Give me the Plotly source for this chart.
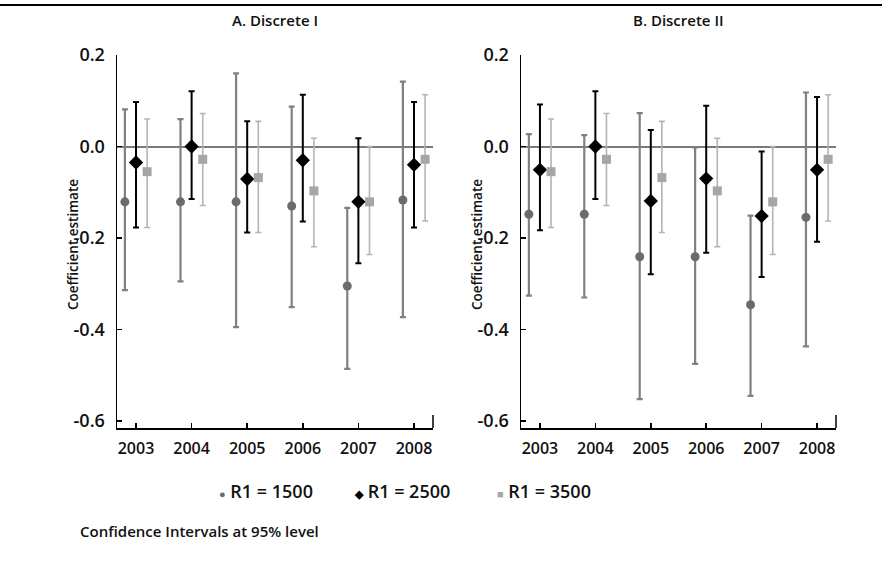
import plotly.graph_objects as go

years = [2003, 2004, 2005, 2006, 2007, 2008]
series_names = ["R1 = 1500", "R1 = 2500", "R1 = 3500"]

# Panel A: Discrete I
a_1500 = [-0.121, -0.121, -0.121, -0.130, -0.305, -0.117]
a_1500_hi = [0.081, 0.060, 0.160, 0.087, -0.134, 0.142]
a_1500_lo = [-0.314, -0.295, -0.395, -0.351, -0.486, -0.373]
a_2500 = [-0.035, 0.000, -0.071, -0.030, -0.121, -0.040]
a_2500_hi = [0.097, 0.121, 0.055, 0.113, 0.018, 0.097]
a_2500_lo = [-0.177, -0.115, -0.188, -0.164, -0.255, -0.177]
a_3500 = [-0.055, -0.028, -0.068, -0.097, -0.121, -0.028]
a_3500_hi = [0.060, 0.072, 0.055, 0.018, 0.000, 0.113]
a_3500_lo = [-0.177, -0.129, -0.188, -0.219, -0.236, -0.163]

# Panel B: Discrete II
b_1500 = [-0.148, -0.148, -0.241, -0.241, -0.346, -0.155]
b_1500_hi = [0.027, 0.025, 0.073, -0.002, -0.151, 0.118]
b_1500_lo = [-0.326, -0.330, -0.552, -0.475, -0.545, -0.437]
b_2500 = [-0.051, 0.000, -0.119, -0.070, -0.152, -0.051]
b_2500_hi = [0.092, 0.121, 0.036, 0.089, -0.011, 0.108]
b_2500_lo = [-0.183, -0.115, -0.279, -0.232, -0.285, -0.208]
b_3500 = [-0.055, -0.028, -0.068, -0.097, -0.121, -0.028]
b_3500_hi = [0.060, 0.072, 0.055, 0.018, 0.000, 0.113]
b_3500_lo = [-0.177, -0.129, -0.188, -0.219, -0.236, -0.163]

y_ticks = [0.2, 0.0, -0.2, -0.4, -0.6]
y_ticklabels = ["0.2", "0.0", "-0.2", "-0.4", "-0.6"]

FONT = "Open Sans"
W, H = 882, 563

styles = [
    dict(symbol="circle", size=9, mcolor="#6b6b6b", ecolor="#808080", ew=2.2, off=-0.2, glyph="●"),
    dict(symbol="diamond", size=11, mcolor="#000000", ecolor="#000000", ew=2.0, off=0.0, glyph="◆"),
    dict(symbol="square", size=9, mcolor="#a6a6a6", ecolor="#b4b4b4", ew=1.6, off=0.2, glyph="■"),
]

panels = [
    ("x", "y", [(a_1500, a_1500_hi, a_1500_lo), (a_2500, a_2500_hi, a_2500_lo), (a_3500, a_3500_hi, a_3500_lo)]),
    ("x2", "y2", [(b_1500, b_1500_hi, b_1500_lo), (b_2500, b_2500_hi, b_2500_lo), (b_3500, b_3500_hi, b_3500_lo)]),
]

fig = go.Figure()
for pi, (xa, ya, sers) in enumerate(panels):
    for si, (v, hi, lo) in enumerate(sers):
        st = styles[si]
        fig.add_trace(go.Scatter(
            x=[yr + st["off"] for yr in years],
            y=v,
            mode="markers",
            name=series_names[si],
            showlegend=False,
            hoverinfo="skip",
            marker=dict(symbol=st["symbol"], size=st["size"], color=st["mcolor"], line=dict(width=0)),
            error_y=dict(type="data", symmetric=False,
                         array=[h - a for h, a in zip(hi, v)],
                         arrayminus=[a - l for a, l in zip(v, lo)],
                         color=st["ecolor"], thickness=st["ew"], width=3),
            xaxis=xa, yaxis=ya,
        ))

ytop, ybot = 55, 428
xa_l, xa_r = 117, 433
xb_l, xb_r = 521, 836

common_x = dict(range=[2002.658, 2008.342], tickvals=years, ticktext=[str(y) for y in years],
                ticks="inside", ticklen=5, tickwidth=1.5, tickcolor="#000", automargin=False,
                showline=True, linecolor="#000", linewidth=1.5, showgrid=False, zeroline=False,
                tickfont=dict(family=FONT, size=16, color="#111", weight=600), ticklabelstandoff=5)
common_y = dict(range=[-0.6153, 0.2], tickvals=y_ticks, ticktext=y_ticklabels,
                ticks="inside", ticklen=5, tickwidth=1.5, tickcolor="#000", automargin=False,
                showline=True, linecolor="#000", linewidth=1.5, showgrid=False,
                zeroline=True, zerolinecolor="#7a7a7a", zerolinewidth=2,
                tickfont=dict(family=FONT, size=18, color="#111", weight=600), ticklabelstandoff=7)

fig.update_layout(
    width=W, height=H, autosize=False,
    margin=dict(l=0, r=0, t=0, b=0, pad=0),
    paper_bgcolor="white", plot_bgcolor="white",
    showlegend=False, dragmode=False, hovermode=False,
    xaxis=dict(domain=[xa_l / W, xa_r / W], anchor="y", **common_x),
    yaxis=dict(domain=[1 - ybot / H, 1 - ytop / H], anchor="x", **common_y),
    xaxis2=dict(domain=[xb_l / W, xb_r / W], anchor="y2", **common_x),
    yaxis2=dict(domain=[1 - ybot / H, 1 - ytop / H], anchor="x2", **common_y),
    font=dict(family=FONT),
)

# panel titles
for cx, txt in [((xa_l + xa_r) / 2, "A. Discrete I"), ((xb_l + xb_r) / 2, "B. Discrete II")]:
    fig.add_annotation(x=cx / W, y=1 - 20 / H, xref="paper", yref="paper", text=txt, showarrow=False,
                       font=dict(family=FONT, size=15, color="#111", weight=600), xanchor="center", yanchor="middle")

# y axis titles
for cx in [73, 477]:
    fig.add_annotation(x=cx / W, y=1 - 245 / H, xref="paper", yref="paper", text="Coefficient estimate",
                       showarrow=False, textangle=-90,
                       font=dict(family=FONT, size=13.5, color="#111", weight=600), xanchor="center", yanchor="middle")

# legend (text entries with coloured glyphs)
legend_x = [217, 352, 495]
for si, lx in enumerate(legend_x):
    st = styles[si]
    fig.add_annotation(x=lx / W, y=1 - 491 / H, xref="paper", yref="paper",
                       text=f"<span style='color:{st['mcolor']};font-size:11px'>{st['glyph']}</span> {series_names[si]}",
                       showarrow=False, xanchor="left", yanchor="middle",
                       font=dict(family=FONT, size=18, color="#111", weight=600))

fig.add_annotation(x=78 / W, y=1 - 531 / H, xref="paper", yref="paper", text="Confidence Intervals at 95% level",
                   showarrow=False, font=dict(family=FONT, size=15, color="#111", weight=600),
                   xanchor="left", yanchor="middle")

# top rule
fig.add_shape(type="line", xref="paper", yref="paper", x0=0, x1=1, y0=1 - 5 / H, y1=1 - 5 / H,
              line=dict(color="#000", width=2))
# right end ticks of x axes
for xr in ["x domain", "x2 domain"]:
    fig.add_shape(type="line", xref=xr, yref="paper", x0=1, x1=1, y0=1 - ybot / H, y1=1 - (ybot - 13) / H,
                  line=dict(color="#000", width=1.5))

fig.write_html("out.html",
               config={"displayModeBar": False, "staticPlot": True},
               post_script=("var d=document.getElementById('{plot_id}');"
                            "d.style.position='absolute';d.style.left='0px';d.style.top='0px';"))
